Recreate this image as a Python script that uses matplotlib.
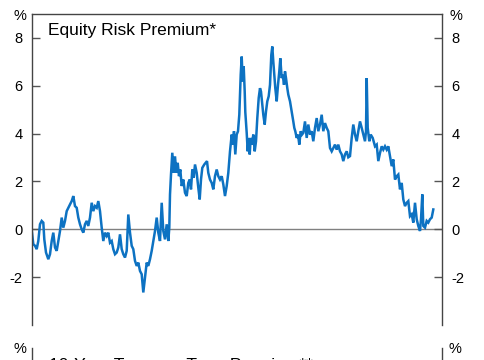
import matplotlib
matplotlib.use("Agg")
import matplotlib.pyplot as plt

plt.rcParams['font.family'] = ['Liberation Sans', 'DejaVu Sans']

# Equity risk premium (%); t is a sequential time index
t = [0, 1.3, 3, 4.7, 6.3, 8, 9.7, 11.3, 12.3, 14, 16.3, 18, 19.7, 21.3, 23, 24.7, 26.3, 28,
     29.7, 31.3, 33, 34.7, 36.3, 38, 39.7, 41.3, 43, 44.7, 46.3, 48, 49.7, 51.3, 53, 54.7, 56.3,
     58, 59.7, 61.3, 63, 64.7, 66.3, 68, 69.7, 71.3, 73, 74.7, 76.3, 78, 79.7, 81.3, 83, 84.7,
     86.3, 88, 89.7, 91.3, 93, 94.7, 96.3, 98, 99.7, 101.3, 103, 104.7, 106.3, 108, 109.7,
     111.3, 113, 114.7, 116.3, 118, 119.7, 121.3, 123, 124.7, 126.3, 128, 129.7, 131.3, 133,
     134.7, 136.3, 137.3, 138, 139, 140.3, 141.7, 143, 144.3, 145.7, 147, 148.3, 149.7,
     151.3, 153, 154.7, 156.3, 157.7, 159, 160.3, 161.7, 163, 164.7, 166.3, 167.7, 169, 170.3,
     172.3, 173.7, 175, 176.3, 178, 179.7, 181.3, 183, 184.7, 186.3, 188, 189.7, 191.3, 193,
     194.7, 196.3, 198, 199.7, 200.7, 202, 203.3, 204.7, 206, 207.3, 208.7, 209.7, 210.7, 211.7,
     212.7, 213.3, 214.7, 215.7, 216.7, 217.7, 218.7, 220, 221.3, 222.7, 224, 225.3, 226.7, 228,
     229, 230, 231.3, 232.7, 234, 235.3, 236.7, 238, 239.3, 240.3, 241.3, 242.3, 243.3, 244.7,
     246, 247.3, 248.3, 249.7, 250.7, 252, 253, 254, 255.3, 256.3, 258, 259.7, 261.3, 262.3,
     263.3, 264.7, 266, 267.3, 268.7, 270, 271.3, 273, 274.7, 276.3, 278, 279.7, 281.3, 283,
     284.7, 286.3, 288, 289.7, 291.3, 293, 294.7, 296.3, 298, 299.7, 301.3, 303, 304.7, 306.3,
     308, 309.7, 311.3, 313, 314.7, 316.3, 318, 319.7, 321.3, 323, 324.7, 326.3, 328, 329.7,
     331.3, 333, 334, 334.7, 335.7, 337.3, 338.7, 340.7, 343, 344.7, 346.3, 348, 349.7, 351.3,
     353, 354.7, 356.3, 358, 359.7, 361.3, 363, 364.7, 366.3, 368, 369.7, 371.3, 373, 374.7,
     376.3, 378, 379.7, 381.3, 383, 384.7, 386.3, 388, 389, 390.3, 391.3, 393, 394.7, 396.3,
     398, 399.7, 401.3]
erp = [-0.14, -0.62, -0.69, -0.83, -0.49, 0.21, 0.35, 0.28, -0.42, -0.97, -1.25, -1.04, -0.49,
       -0.14, -0.76, -0.90, -0.49, -0.07, 0.49, 0.07, 0.35, 0.76, 0.90, 1.04, 1.18, 1.39, 0.97,
       0.90, 0.49, 0.21, 0.0, -0.14, 0.21, 0.35, 0.14, 0.49, 1.11, 0.76, 0.97, 0.90, 1.18, 0.76,
       0.07, -0.49, -0.14, -0.28, -0.14, -0.56, -0.49, -0.83, -1.04, -0.97, -0.76, -0.21, -0.83,
       -1.04, -1.18, -0.90, 0.62, -0.14, -0.69, -0.83, -1.32, -1.53, -1.39, -1.74, -1.88, -2.64,
       -2.01, -1.39, -1.53, -1.25, -0.90, -0.49, -0.07, 0.49, -0.14, -0.49, 1.11, -0.07, -0.42,
       0.21, -0.49, 0.07, 1.46, 2.29, 3.2, 2.36, 3.05, 2.36, 2.78, 2.22, 2.5, 1.81, 2.08, 1.53,
       1.39, 1.94, 2.08, 1.67, 2.5, 2.15, 2.71, 2.36, 1.74, 1.25, 2.08, 2.57, 2.71, 2.78, 2.85,
       2.36, 2.08, 1.94, 1.67, 2.22, 2.5, 2.22, 2.08, 2.22, 1.88, 1.39, 1.81, 2.36, 3.26, 3.96,
       3.54, 4.10, 3.13, 3.96, 4.10, 4.79, 6.46, 7.22, 6.18, 6.81, 5.76, 4.90, 4.03, 3.26, 3.82,
       3.13, 3.82, 3.54, 3.96, 3.26, 3.68, 4.65, 5.49, 5.90, 5.76, 5.35, 4.79, 4.38, 4.93, 5.35,
       5.56, 6.04, 7.29, 7.64, 7.01, 6.46, 5.90, 5.35, 6.04, 6.60, 7.15, 6.32, 6.46, 6.04, 6.60,
       6.32, 5.90, 5.63, 5.35, 4.93, 4.51, 4.24, 4.10, 3.82, 3.96, 3.54, 4.10, 3.96, 4.03, 4.51,
       3.82, 4.38, 3.96, 4.10, 3.68, 4.24, 4.65, 4.10, 4.38, 4.79, 4.10, 4.44, 4.24, 4.10, 3.40,
       3.26, 3.40, 3.54, 3.33, 3.54, 3.26, 3.13, 2.85, 3.13, 3.26, 3.01, 3.06, 3.82, 4.38, 3.96,
       3.68, 4.10, 4.51, 4.24, 3.96, 3.68, 4.10, 6.32, 4.24, 3.68, 3.96, 3.82, 3.47, 3.54, 2.85,
       3.19, 3.47, 3.33, 3.47, 3.33, 3.47, 3.06, 2.64, 2.92, 2.08, 2.22, 2.29, 1.67, 1.94, 1.25,
       0.97, 1.11, 1.18, 0.55, 0.63, 0.28, 1.11, 0.42, 0.14, -0.07, 0.42, 1.46, 0.14, 0.07, 0.35,
       0.28, 0.42, 0.49, 0.83]

yticks = [-2, 0, 2, 4, 6, 8]
title1 = "Equity Risk Premium*"
title2 = "10-Year Treasury Term Premium**"

W, H = 485, 360
fig = plt.figure(figsize=(W / 100, H / 100), dpi=100)

ax = fig.add_axes([32 / W, 1 - 325 / H, 410 / W, 311 / H])
ax.plot(t, erp, color='#0d72c2', lw=1.8, solid_joinstyle='miter')
ax.axhline(0, color='#808080', lw=1.0, zorder=1)
ax.set_xlim(0, 410)
ax.set_ylim(-4, 9)
ax.set_yticks(yticks)
ax.set_yticklabels([str(v) for v in yticks])
ax.tick_params(axis='y', direction='in', length=5.5, width=1.0, color='#555555',
               labelcolor='black', labelsize=10.5, pad=7,
               left=True, right=True, labelleft=True, labelright=True)
ax.tick_params(axis='x', bottom=False, labelbottom=False)
ax.spines['bottom'].set_visible(False)
for s in ['left', 'right', 'top']:
    ax.spines[s].set_color('#444444')
    ax.spines[s].set_linewidth(1.0)
ax.text(16 / 410, 1 - 16 / 311, title1, transform=ax.transAxes, fontsize=12.5,
        va='center', ha='left')
fig.text(20 / W, 1 - 16 / H, '%', ha='center', va='center', fontsize=10.5)
fig.text(456 / W, 1 - 16 / H, '%', ha='center', va='center', fontsize=10.5)

# Second panel (cut off at the bottom of the image)
ax2 = fig.add_axes([32 / W, -0.6, 410 / W, 0.6 + (1 - 348 / H)])
ax2.set_xticks([])
ax2.set_yticks([])
ax2.spines['top'].set_visible(False)
ax2.spines['bottom'].set_visible(False)
for s in ['left', 'right']:
    ax2.spines[s].set_color('#444444')
    ax2.spines[s].set_linewidth(1.0)
ax2.patch.set_alpha(0)
fig.text(20 / W, 1 - 349 / H, '%', ha='center', va='center', fontsize=10.5)
fig.text(455 / W, 1 - 349 / H, '%', ha='center', va='center', fontsize=10.5)
fig.text(49 / W, 1 - 370 / H, title2, ha='left', va='baseline', fontsize=12.5)

fig.savefig('out.png', dpi=100)
